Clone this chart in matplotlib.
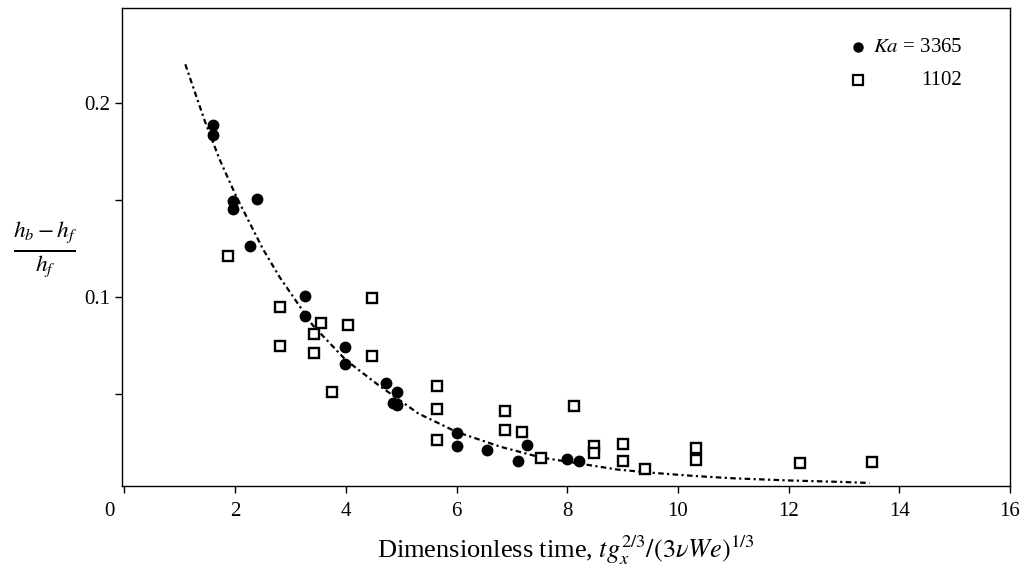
import numpy as np
import matplotlib
matplotlib.use("Agg")
import matplotlib.pyplot as plt
from matplotlib.transforms import ScaledTranslation

plt.rcParams['font.family'] = ['Liberation Serif', 'DejaVu Serif']
plt.rcParams['mathtext.fontset'] = 'stix'

# Ka = 3365 (filled circles)
ka3365_x = [1.60, 1.60, 1.97, 1.97, 2.39, 2.27, 3.26, 3.26, 3.98, 3.98,
            4.73, 4.92, 4.85, 4.92, 6.00, 6.00, 6.56, 7.28, 7.12, 8.00, 8.21]
ka3365_y = [0.189, 0.1835, 0.1496, 0.1454, 0.1505, 0.1264, 0.1005, 0.0904, 0.0744, 0.0655,
            0.0558, 0.0510, 0.0457, 0.0443, 0.0302, 0.0233, 0.0216, 0.0242, 0.0156, 0.0168, 0.0156]

# Ka = 1102 (open squares)
ka1102_x = [1.87, 2.81, 2.81, 3.56, 3.42, 3.42, 4.04, 4.47, 4.47, 3.75,
            5.64, 5.64, 5.64, 6.88, 6.88, 7.18, 7.53, 8.13, 8.49, 8.49,
            9.00, 9.00, 9.41, 10.33, 10.33, 12.21, 13.50]
ka1102_y = [0.1215, 0.0950, 0.0749, 0.0868, 0.0811, 0.0714, 0.0857, 0.0996, 0.0697, 0.0510,
            0.0541, 0.0426, 0.0266, 0.0415, 0.0316, 0.0306, 0.0173, 0.0441, 0.0235, 0.0196,
            0.0244, 0.0158, 0.0117, 0.0225, 0.0161, 0.0149, 0.0151]

# fitted curve
fit_x = [1.10, 1.45, 1.72, 2.02, 2.50, 2.80, 3.40, 4.00, 4.59, 5.31, 6.00,
         6.80, 7.53, 8.20, 8.91, 9.60, 10.30, 11.00, 12.00, 13.00, 13.46]
fit_y = [0.220, 0.191, 0.171, 0.152, 0.125, 0.1106, 0.0857, 0.0677, 0.0548, 0.0402, 0.0307,
         0.0230, 0.0175, 0.0145, 0.0113, 0.0095, 0.0080, 0.0068, 0.0057, 0.0049, 0.0044]

fig = plt.figure(figsize=(10.24, 5.71), dpi=100)
ax = fig.add_axes([0.1188, 0.1494, 0.8675, 0.8366])

ax.plot(fit_x, fit_y, color='black', lw=1.6, linestyle=(0, (2.5, 1.5, 1, 1.5)), zorder=1)
ax.plot(ka3365_x, ka3365_y, 'o', color='black', ms=7.5, zorder=3)
ax.plot(ka1102_x, ka1102_y, 's', mfc='white', mec='black', mew=1.7, ms=7, zorder=2)

ax.set_xlim(-0.05, 15.95)
ax.set_ylim(0.003, 0.249)
ax.set_xticks(np.arange(0, 17, 2))
ax.set_yticks([0.1, 0.2])
ax.set_yticklabels(['0.1', '0.2'])
ax.set_yticks([0.05, 0.15], minor=True)
ax.tick_params(axis='both', which='both', direction='out', length=5, width=1,
               labelsize=15)
ax.tick_params(axis='x', pad=7)
ax.tick_params(axis='y', pad=3.5)
for sp in ax.spines.values():
    sp.set_linewidth(1)

# the "0" label sits left of the corner
lbl0 = ax.get_xticklabels()[0]
lbl0.set_transform(lbl0.get_transform() + ScaledTranslation(-0.15, 0, fig.dpi_scale_trans))

ax.set_xlabel(r'Dimensionless time, $tg_x^{2/3}/(3\nu We)^{1/3}$', fontsize=19, labelpad=9)
fig.text(0.044, 0.562, r'$\frac{h_b - h_f}{h_f}$', fontsize=24, ha='center', va='center')

# legend
ax.plot([0.829], [0.918], 'o', color='black', ms=6.5, transform=ax.transAxes, clip_on=False)
ax.plot([0.829], [0.849], 's', mfc='white', mec='black', mew=1.6, ms=6.5,
        transform=ax.transAxes, clip_on=False)
ax.text(0.846, 0.918, r'$Ka$ = 3365', transform=ax.transAxes, fontsize=15,
        ha='left', va='center')
ax.text(0.9457, 0.849, '1102', transform=ax.transAxes, fontsize=15,
        ha='right', va='center')

fig.savefig('out.png', dpi=100)
